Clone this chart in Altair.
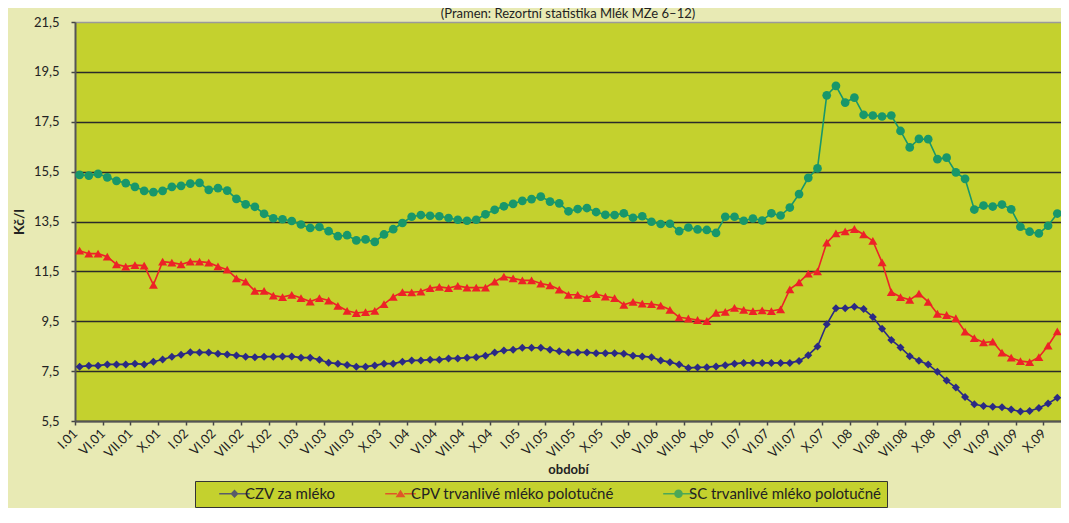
import json
import math
import altair as alt
import pandas as pd

# ---------------- data ----------------
title_text = "(Pramen: Rezortní statistika Mlék MZe 6–12)"
series_names = ["CZV za mléko", "CPV trvanlivé mléko polotučné", "SC trvanlivé mléko polotučné"]
series_colors = ["#2b2a84", "#ed2227", "#18976a"]
series_shapes = ["diamond", "triangle-up", "circle"]
series_sizes = [64, 81, 76]

quarter_labels = ["I", "VI", "VII", "X"]
years = ["01", "02", "03", "04", "05", "06", "07", "08", "09"]

czv = [7.68, 7.72, 7.72, 7.77, 7.77, 7.77, 7.80, 7.77, 7.88, 7.97, 8.08, 8.16, 8.26, 8.25, 8.25, 8.20,
       8.17, 8.13, 8.08, 8.06, 8.08, 8.08, 8.09, 8.09, 8.04, 8.04, 7.96, 7.84, 7.80, 7.75, 7.68, 7.68,
       7.73, 7.80, 7.80, 7.88, 7.93, 7.93, 7.96, 7.96, 8.01, 8.01, 8.04, 8.06, 8.12, 8.25, 8.33, 8.36,
       8.44, 8.44, 8.44, 8.36, 8.30, 8.25, 8.25, 8.25, 8.22, 8.22, 8.22, 8.20, 8.12, 8.09, 8.06, 7.93,
       7.86, 7.77, 7.63, 7.65, 7.66, 7.69, 7.74, 7.80, 7.83, 7.83, 7.83, 7.83, 7.83, 7.83, 7.91, 8.14,
       8.49, 9.38, 10.02, 10.02, 10.08, 9.99, 9.67, 9.20, 8.75, 8.45, 8.10, 7.92, 7.77, 7.47, 7.12, 6.84,
       6.46, 6.17, 6.10, 6.07, 6.05, 5.96, 5.88, 5.90, 6.02, 6.20, 6.43]

cpv = [12.33, 12.21, 12.21, 12.09, 11.78, 11.69, 11.75, 11.73, 10.96, 11.89, 11.85, 11.78, 11.89, 11.89,
       11.85, 11.70, 11.57, 11.22, 11.09, 10.72, 10.72, 10.53, 10.47, 10.56, 10.43, 10.29, 10.43, 10.33,
       10.12, 9.92, 9.83, 9.87, 9.92, 10.19, 10.48, 10.67, 10.66, 10.69, 10.83, 10.88, 10.83, 10.92,
       10.85, 10.85, 10.85, 11.09, 11.29, 11.22, 11.14, 11.14, 11.01, 10.94, 10.77, 10.56, 10.56, 10.43,
       10.59, 10.49, 10.43, 10.16, 10.28, 10.21, 10.19, 10.13, 9.96, 9.66, 9.61, 9.55, 9.51, 9.84, 9.88,
       10.04, 9.96, 9.91, 9.94, 9.91, 9.98, 10.78, 11.06, 11.41, 11.50, 12.65, 13.02, 13.10, 13.20, 12.98,
       12.72, 11.86, 10.67, 10.47, 10.36, 10.61, 10.28, 9.80, 9.75, 9.62, 9.08, 8.82, 8.65, 8.68, 8.24,
       8.04, 7.90, 7.86, 8.06, 8.52, 9.09]

sc = [15.37, 15.34, 15.41, 15.27, 15.13, 15.04, 14.89, 14.73, 14.68, 14.73, 14.89, 14.93, 15.02, 15.05,
      14.77, 14.84, 14.74, 14.41, 14.19, 14.09, 13.81, 13.63, 13.59, 13.52, 13.38, 13.24, 13.28, 13.11,
      12.91, 12.95, 12.74, 12.78, 12.68, 12.98, 13.19, 13.44, 13.69, 13.76, 13.73, 13.71, 13.64, 13.57,
      13.53, 13.57, 13.79, 13.97, 14.11, 14.21, 14.33, 14.40, 14.50, 14.30, 14.23, 13.91, 14.00, 14.04,
      13.88, 13.77, 13.76, 13.83, 13.65, 13.71, 13.49, 13.40, 13.41, 13.11, 13.26, 13.18, 13.16, 13.04,
      13.69, 13.69, 13.53, 13.62, 13.54, 13.83, 13.74, 14.06, 14.60, 15.25, 15.63, 18.56, 18.94, 18.27,
      18.47, 17.78, 17.75, 17.71, 17.75, 17.13, 16.47, 16.81, 16.80, 16.00, 16.06, 15.47, 15.21, 13.98,
      14.14, 14.10, 14.18, 13.99, 13.29, 13.09, 13.02, 13.33, 13.82]

y_ticks = [5.5, 7.5, 9.5, 11.5, 13.5, 15.5, 17.5, 19.5, 21.5]

# ---------------- build table ----------------
tick_labels = [f"{m}.{y}" for y in years for m in quarter_labels]
rows = []
for name, vals in zip(series_names, [czv, cpv, sc]):
    for i, v in enumerate(vals):
        rows.append({"series": name, "t": i + 0.5, "value": v})
df = pd.DataFrame(rows)

PAGE_BG = "#e8eab4"
PLOT_BG = "#c4d12e"
FONT = "Lato"
W, H = 986, 399

x_enc = alt.X(
    "t:Q",
    scale=alt.Scale(domain=[0, 106.9], nice=False, zero=False),
    axis=alt.Axis(
        values=list(range(0, 106, 3)),
        labelExpr=json.dumps(tick_labels) + "[round(datum.value/3)]",
        labelAngle=-45, labelAlign="right", labelBaseline="middle", labelOverlap=False,
        labelFontSize=13, labelColor="#222", labelPadding=6,
        tickSize=4, tickColor="#444", tickWidth=1.5,
        domainColor="#555", domainWidth=2, grid=False,
        title="období", titleFontSize=13, titleFontWeight="bold", titleColor="#222",
        titleY=48, titleBaseline="middle",
    ),
)
y_enc = alt.Y(
    "value:Q",
    scale=alt.Scale(domain=[5.5, 21.5], nice=False, zero=False),
    axis=alt.Axis(
        values=y_ticks,
        labelExpr="replace(format(datum.value, '.1f'), '.', ',')",
        labelFontSize=13, labelColor="#222", labelPadding=12,
        tickSize=4, tickColor="#444", tickWidth=1.5,
        domainColor="#555", domainWidth=2,
        grid=True,
        gridColor={"condition": {"test": "datum.value == 21.5", "value": "#9a9a9a"}, "value": "#2a2a2a"},
        gridWidth=1.4,
        title="Kč/l", titleFontSize=14, titleFontWeight="bold", titleColor="#222",
        titleX=-56, titleY=H / 2, titleAngle=270, titleAlign="center", titleBaseline="middle",
    ),
)

# legend symbols: line + marker as custom paths (polygons only)
seg = "M-3.4,-0.17L-0.8,-0.17L-0.8,0.17L-3.4,0.17ZM0.8,-0.17L3.4,-0.17L3.4,0.17L0.8,0.17Z"
circle_pts = [(0.95 * math.cos(2 * math.pi * k / 16), 0.95 * math.sin(2 * math.pi * k / 16)) for k in range(16)]
circle_path = "M" + "L".join(f"{px:.3f},{py:.3f}" for px, py in circle_pts) + "Z"
legend_paths = [
    seg + "M0,-0.95L0.9,0L0,0.95L-0.9,0Z",
    seg + "M0,-0.9L1.1,0.8L-1.1,0.8Z",
    seg + circle_path,
]

legend = alt.Legend(
    title=None, orient="none", legendX=120, legendY=459, direction="horizontal",
    fillColor=PLOT_BG, strokeColor="#333", padding=5,
    symbolSize=81, symbolOffset=27, labelOffset=3, columnPadding=30,
    symbolStrokeWidth=0, labelLimit=600,
    labelFontSize=15, labelColor="#222", labelFont=FONT,
)

base = alt.Chart(df)

series_layers = []
for name, col, shp, sz in zip(series_names, series_colors, series_shapes, series_sizes):
    sub = base.transform_filter(alt.datum.series == name)
    series_layers.append(sub.mark_line(strokeWidth=1.6, color=col).encode(x=x_enc, y=y_enc))
    series_layers.append(
        sub.mark_point(filled=True, opacity=1, shape=shp, size=sz, strokeWidth=0, color=col)
        .encode(x=x_enc, y=y_enc)
    )

# legend-only layer: no rows survive the filter, the scales' explicit domains drive the legend
legend_layer = (
    base.transform_filter("datum.t < 0")
    .mark_point(filled=True, size=81)
    .encode(
        x=x_enc,
        y=y_enc,
        color=alt.Color("series:N", scale=alt.Scale(domain=series_names, range=series_colors), legend=legend),
        shape=alt.Shape("series:N", scale=alt.Scale(domain=series_names, range=legend_paths), legend=legend),
    )
)

title_layer = alt.Chart(pd.DataFrame({"title": [title_text]})).mark_text(
    fontSize=13, color="#222", font=FONT, align="center", baseline="alphabetic"
).encode(text="title:N", x=alt.value(W / 2), y=alt.value(-4))

chart = (
    alt.layer(*series_layers, legend_layer, title_layer)
    .properties(
        width=W,
        height=H,
        autosize=alt.AutoSizeParams(type="none"),
        padding={"left": 67, "top": 14, "right": 0, "bottom": 87},
        background=PAGE_BG,
    )
    .configure(font=FONT)
    .configure_view(fill=PLOT_BG, stroke=None)
)

chart.save("out.html", embed_options={"renderer": "svg", "actions": False})
